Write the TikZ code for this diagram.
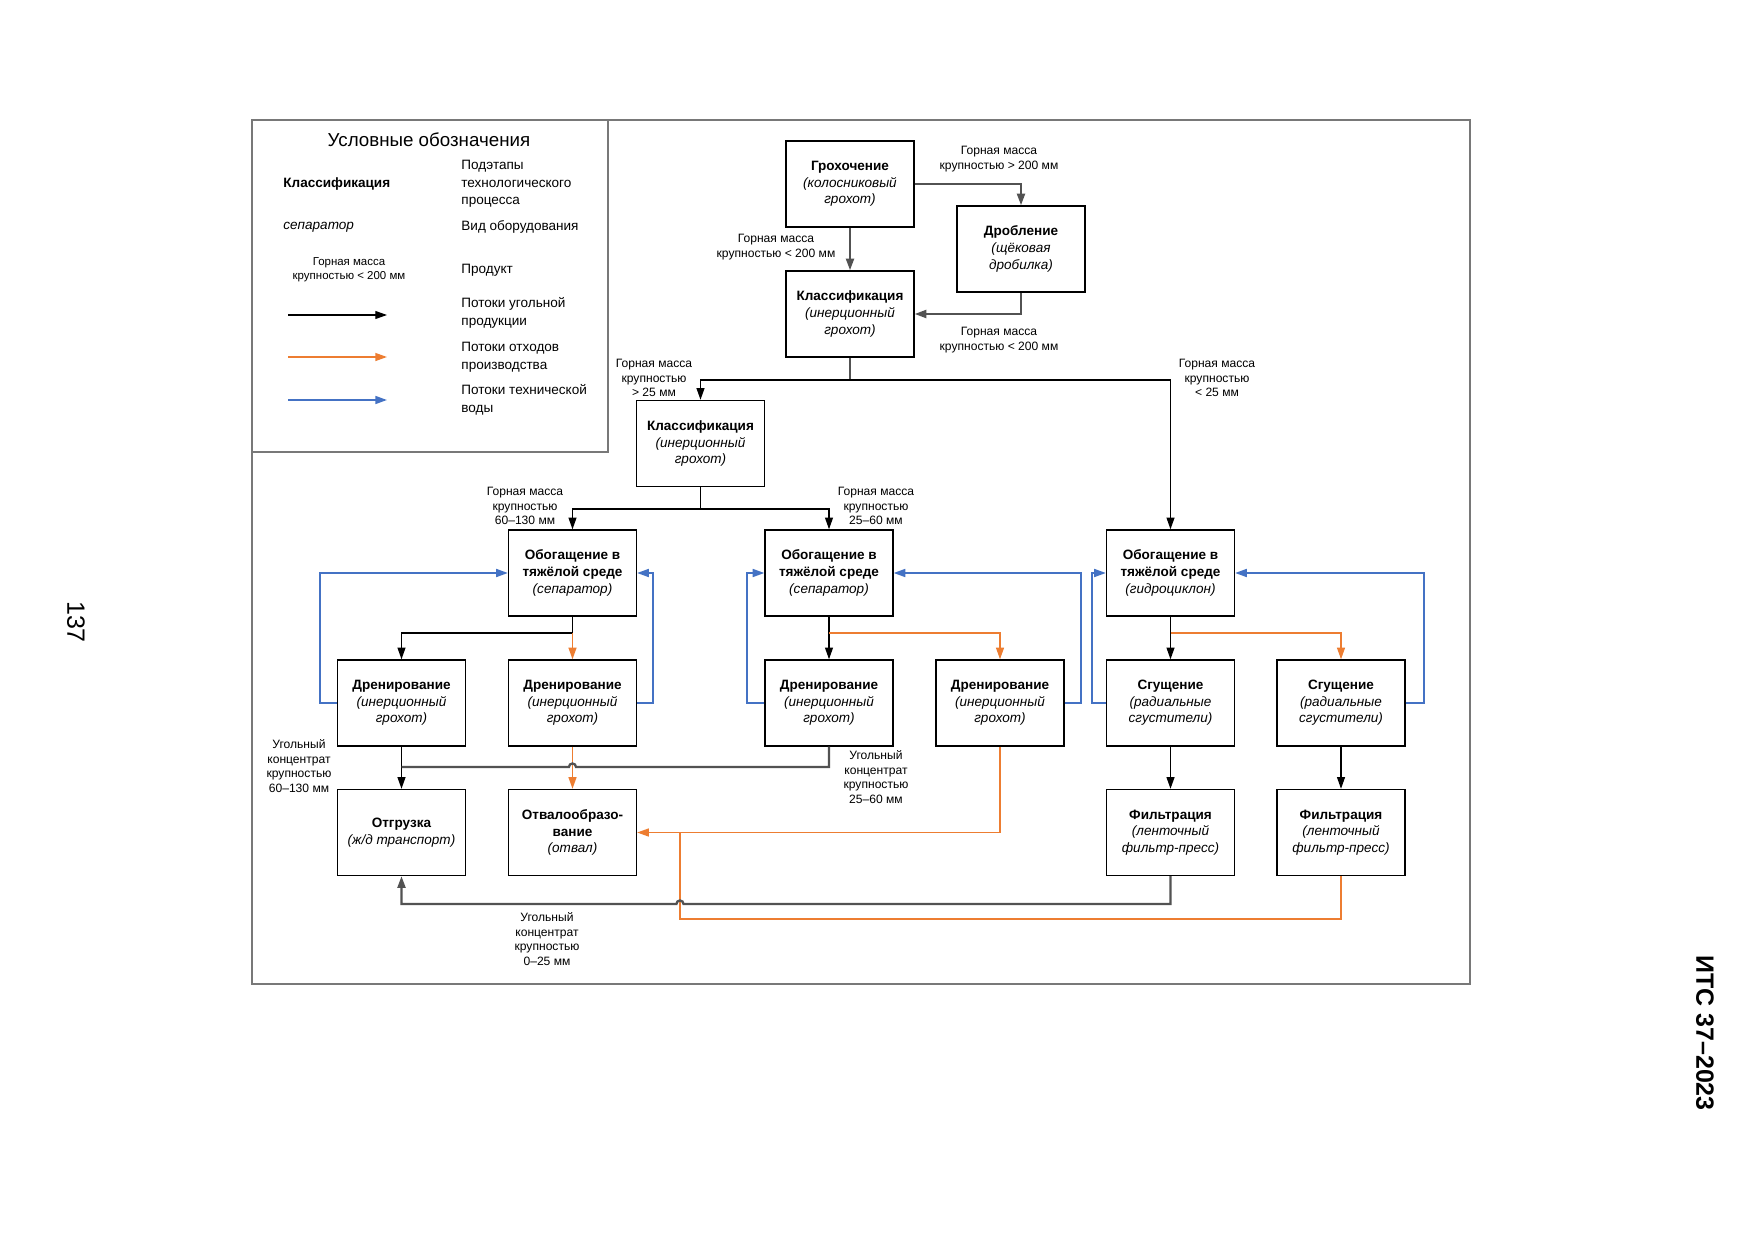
\documentclass[tikz,border=0pt]{standalone}
\usepackage{fontspec}
\setmainfont{Liberation Sans}
\usetikzlibrary{arrows.meta,calc}
\definecolor{wasteor}{RGB}{237,125,49}
\definecolor{waterbl}{RGB}{68,114,196}
\definecolor{framegr}{RGB}{120,120,120}
\begin{document}
\begin{tikzpicture}[x=0.48pt,y=-0.48pt,
  >={Triangle[length=5.6pt,width=3.8pt]},
  box/.style={draw=black, line width=0.65pt, fill=white, minimum width=61.4pt, minimum height=41.3pt, inner sep=1pt, align=center, font=\fontsize{6.5}{8}\selectfont},
  lbl/.style={align=center, inner sep=0pt, font=\fontsize{5.8}{7}\selectfont},
  leg/.style={anchor=west, align=left, inner sep=0pt, font=\fontsize{6.5}{8.4}\selectfont},
  coal/.style={draw=black, line width=0.6pt},
  coalg/.style={draw=black!68, line width=1.1pt},
  waste/.style={draw=wasteor, line width=0.7pt},
  water/.style={draw=waterbl, line width=0.9pt}]
\fill[white] (0,0) rectangle (1754,1240);
\useasboundingbox (0,0) rectangle (1754,1240);

% frames
\draw[framegr, line width=1pt] (252,120) rectangle (1470,984);
\draw[framegr, line width=1pt] (252,120) rectangle (608,452);

% legend
\node[font=\fontsize{9}{11}\selectfont] (lgT) at (429,140) {Условные обозначения};
\node[leg] (lg1a) at (283,184) {\textbf{Классификация}};
\node[leg] (lg1b) at (461,184) {Подэтапы\\технологического\\процесса};
\node[leg] (lg2a) at (283,227) {\textit{сепаратор}};
\node[leg] (lg2b) at (461,227) {Вид оборудования};
\node[lbl, font=\fontsize{5.5}{6.8}\selectfont] (lg3a) at (349,270) {Горная масса\\крупностью < 200 мм};
\node[leg] (lg3b) at (461,270) {Продукт};
\coordinate (la1) at (288,315); \coordinate (la2) at (387,315);
\draw[coal,->] (la1) -- (la2);
\node[leg] (lg4b) at (461,313) {Потоки угольной\\продукции};
\coordinate (lb1) at (288,357); \coordinate (lb2) at (387,357);
\draw[waste,->] (lb1) -- (lb2);
\node[leg] (lg5b) at (461,357) {Потоки отходов\\производства};
\coordinate (lc1) at (288,400); \coordinate (lc2) at (387,400);
\draw[water,->] (lc1) -- (lc2);
\node[leg] (lg6b) at (461,400) {Потоки технической\\воды};

% nodes
\node[box] (grokh) at (850,184) {\textbf{Грохочение}\\\textit{(колосниковый}\\\textit{грохот)}};
\node[box] (drob) at (1021,249) {\textbf{Дробление}\\\textit{(щёковая}\\\textit{дробилка)}};
\node[box] (kl1) at (850,314) {\textbf{Классификация}\\\textit{(инерционный}\\\textit{грохот)}};
\node[box] (kl2) at (700.5,443.5) {\textbf{Классификация}\\\textit{(инерционный}\\\textit{грохот)}};
\node[box] (ob1) at (572.5,573) {\textbf{Обогащение в}\\\textbf{тяжёлой среде}\\\textit{(сепаратор)}};
\node[box] (ob2) at (829,573) {\textbf{Обогащение в}\\\textbf{тяжёлой среде}\\\textit{(сепаратор)}};
\node[box] (ob3) at (1170.5,573) {\textbf{Обогащение в}\\\textbf{тяжёлой среде}\\\textit{(гидроциклон)}};
\node[box] (dr1) at (401.5,703) {\textbf{Дренирование}\\\textit{(инерционный}\\\textit{грохот)}};
\node[box] (dr2) at (572.5,703) {\textbf{Дренирование}\\\textit{(инерционный}\\\textit{грохот)}};
\node[box] (dr3) at (829,703) {\textbf{Дренирование}\\\textit{(инерционный}\\\textit{грохот)}};
\node[box] (dr4) at (1000,703) {\textbf{Дренирование}\\\textit{(инерционный}\\\textit{грохот)}};
\node[box] (sg1) at (1170.5,703) {\textbf{Сгущение}\\\textit{(радиальные}\\\textit{сгустители)}};
\node[box] (sg2) at (1341,703) {\textbf{Сгущение}\\\textit{(радиальные}\\\textit{сгустители)}};
\node[box] (otgr) at (401.5,832.5) {\textbf{Отгрузка}\\\textit{(ж/д транспорт)}};
\node[box] (otv) at (572.5,832.5) {\textbf{Отвалообразо-}\\\textbf{вание}\\\textit{(отвал)}};
\node[box] (f1) at (1170.5,832.5) {\textbf{Фильтрация}\\\textit{(ленточный}\\\textit{фильтр-пресс)}};
\node[box] (f2) at (1341,832.5) {\textbf{Фильтрация}\\\textit{(ленточный}\\\textit{фильтр-пресс)}};

% junctions
\coordinate (j1) at (850,380);
\coordinate (j5) at (700.5,509);
\coordinate (j2) at (572.5,633);
\coordinate (j3) at (829,633);
\coordinate (j4) at (1170.5,633);
\coordinate (hopA) at (576,767);
\coordinate (hopB) at (683.5,904);
\coordinate (jo) at (680,832.5);
\coordinate (jo2) at (680,919);

% coal flows
\draw[coalg,->] (grokh.east) -| (drob.north);
\draw[coalg,->] (grokh.south) -- (kl1.north);
\draw[coalg,->] (drob.south) |- (kl1.east);
\draw[coalg] (kl1.south) -- (j1);
\draw[coal,->] (j1) -| (kl2.north);
\draw[coal,->] (j1) -| (ob3.north);
\draw[coal] (kl2.south) -- (j5);
\draw[coal,->] (j5) -| (ob1.north);
\draw[coal,->] (j5) -| (ob2.north);
\draw[coal] (ob1.south) -- (j2);
\draw[coal,->] (j2) -| (dr1.north);
\draw[waste,->] (j2) -- (dr2.north);
\draw[coal] (ob2.south) -- (j3);
\draw[coal,->] (j3) -- (dr3.north);
\draw[waste,->] (j3) -| (dr4.north);
\draw[coal] (ob3.south) -- (j4);
\draw[coal,->] (j4) -- (sg1.north);
\draw[waste,->] (j4) -| (sg2.north);
\draw[coal,->] (sg1.south) -- (f1.north);
\draw[coal,->] (sg2.south) -- (f2.north);

% water loops
\draw[water,->] (dr1.west) -- ++(-17,0) |- (ob1.west);
\draw[water,->] (dr2.east) -- ++(16,0) |- (ob1.east);
\draw[water,->] (dr3.west) -- ++(-17,0) |- (ob2.west);
\draw[water,->] (dr4.east) -- ++(16,0) |- (ob2.east);
\draw[water,->] (sg1.west) -- ++(-14,0) |- (ob3.west);
\draw[water,->] (sg2.east) -- ++(18,0) |- (ob3.east);

% bottom flows
\draw[waste,->] (dr2.south) -- (otv.north);
\draw[waste,->] (dr4.south) |- (otv.east);
\draw[waste] (f2.south) |- (jo2) -- (jo);
\draw[coal,->] (dr1.south) -- (otgr.north);
\draw[coalg] (dr3.south) |- (hopA) arc[start angle=0,end angle=180,radius=1.7pt] -- (dr1.south |- hopA);
\draw[coalg,->] (f1.south) |- (hopB) arc[start angle=0,end angle=180,radius=1.7pt] -- (otgr.south |- hopB) -- (otgr.south);

% labels
\node[lbl] (l1) at (999,159) {Горная масса\\крупностью > 200 мм};
\node[lbl] (l2) at (776,247) {Горная масса\\крупностью < 200 мм};
\node[lbl] (l3) at (999,340) {Горная масса\\крупностью < 200 мм};
\node[lbl] (l4) at (654,378) {Горная масса\\крупностью\\> 25 мм};
\node[lbl] (l5) at (1217,378) {Горная масса\\крупностью\\< 25 мм};
\node[lbl] (l6) at (525,506) {Горная масса\\крупностью\\60–130 мм};
\node[lbl] (l7) at (876,506) {Горная масса\\крупностью\\25–60 мм};
\node[lbl] (l8) at (299,766) {Угольный\\концентрат\\крупностью\\60–130 мм};
\node[lbl] (l9) at (876,777) {Угольный\\концентрат\\крупностью\\25–60 мм};
\node[lbl] (l10) at (547,939) {Угольный\\концентрат\\крупностью\\0–25 мм};

% page marks
\node[rotate=-90, font=\fontsize{12}{13}\selectfont] (pg) at (76,622) {137};
\node[rotate=-90, font=\fontsize{12}{14}\selectfont\bfseries] (its) at (1705,1033) {ИТС 37–2023};
\end{tikzpicture}
\end{document}
